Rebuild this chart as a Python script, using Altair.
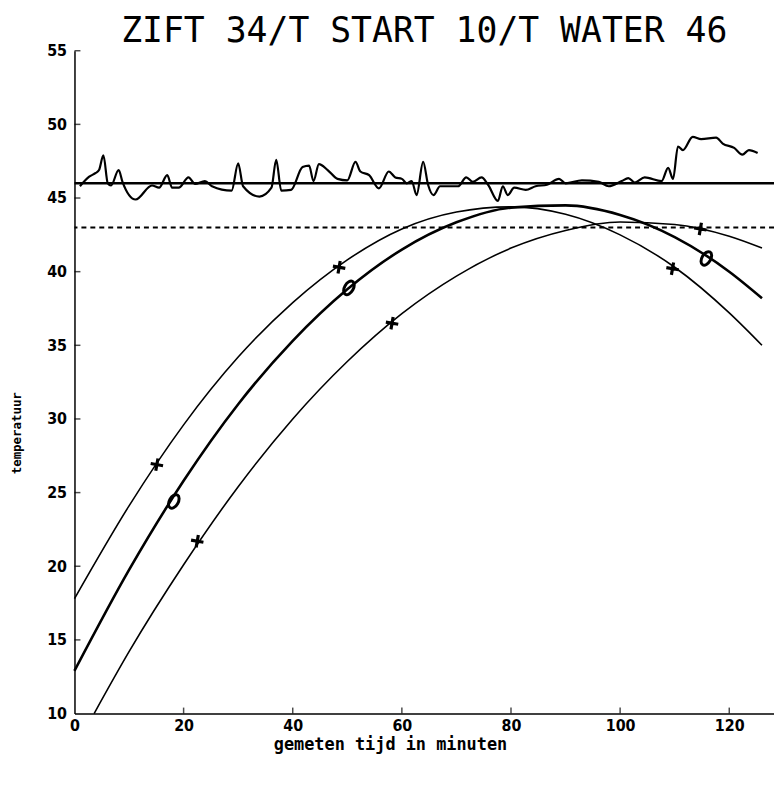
import altair as alt
import pandas as pd

title_text = "ZIFT 34/T START 10/T WATER 46"
x_label = "gemeten tijd in minuten"
y_label = "temperatuur"

x_ticks = [0, 20, 40, 60, 80, 100, 120]
y_ticks = [10, 15, 20, 25, 30, 35, 40, 45, 50, 55]

water_level = [46]
target_level = [43]

noise_x = [1.0, 2.7, 3.9, 4.5, 5.3, 6.1, 6.7, 8.1, 8.8, 11.2, 14.2, 15.5, 17.0, 17.9,
           19.1, 20.9, 22.1, 23.9, 25.2, 28.8, 30.0, 30.9, 33.9, 36.1, 36.97, 37.9,
           39.7, 41.8, 43.0, 43.8, 44.8, 46.4, 48.2, 50.0, 51.5, 52.4, 54.0, 55.8,
           57.6, 58.8, 60.0, 60.9, 61.8, 62.7, 63.9, 64.8, 65.8, 67.0, 70.3, 71.8,
           73.0, 74.6, 75.8, 77.6, 78.5, 79.4, 80.6, 82.7, 84.5, 86.6, 88.8, 90.0,
           93.0, 96.1, 97.9, 100.3, 101.5, 102.7, 104.5, 107.6, 108.8, 109.7, 110.6,
           111.5, 113.3, 114.85, 117.6, 118.8, 120.9, 122.4, 123.6, 125.2]
noise_y = [45.8, 46.45, 46.7, 46.9, 47.9, 46.0, 45.85, 46.9, 46.1, 44.9, 45.85, 45.7,
           46.55, 45.7, 45.7, 46.4, 45.95, 46.15, 45.8, 45.5, 47.35, 45.8, 45.1, 45.7,
           47.6, 45.5, 45.55, 47.1, 47.2, 46.15, 47.3, 46.9, 46.3, 46.2, 47.45, 46.8,
           46.55, 45.65, 46.8, 46.4, 46.3, 46.0, 46.15, 45.2, 47.45, 45.9, 45.2, 45.8,
           45.8, 46.4, 46.1, 46.4, 45.9, 44.8, 45.8, 45.2, 45.7, 45.55, 45.8, 45.9,
           46.3, 46.0, 46.2, 46.1, 45.8, 46.15, 46.35, 46.05, 46.4, 46.15, 47.05,
           46.3, 48.5, 48.25, 49.15, 49.0, 49.1, 48.7, 48.4, 47.95, 48.25, 48.05]

curve_x = [0, 10, 20, 30, 40, 50, 60, 70, 80, 90, 100, 110, 120, 126]
curve1_y = [17.8, 24.1, 29.6, 34.2, 37.9, 40.8, 42.9, 44.05, 44.4, 43.9, 42.5, 40.3, 37.2, 35.0]
curve2_y = [12.9, 19.75, 25.8, 31.0, 35.3, 38.8, 41.5, 43.35, 44.35, 44.5, 43.85, 42.35, 40.0, 38.2]
curve3_x = [3.6, 10, 20, 30, 40, 50, 60, 70, 80, 90, 100, 110, 120, 126]
curve3_y = [10.0, 14.2, 20.1, 25.4, 30.0, 33.9, 37.15, 39.7, 41.6, 42.8, 43.37, 43.2, 42.4, 41.6]

plus1_x = [15.1, 48.5, 109.6]
plus1_y = [26.9, 40.3, 40.2]
ring_x = [18.2, 50.3, 115.8]
ring_y = [24.4, 38.9, 40.9]
plus3_x = [22.5, 58.2, 114.7]
plus3_y = [21.7, 36.5, 42.9]

W, H = 705, 668
xs = alt.Scale(domain=[0, 128.2], nice=False, zero=False)
ys = alt.Scale(domain=[10, 55], nice=False, zero=False)

FONT = "DejaVu Sans Condensed, DejaVu Sans"
MONO = "DejaVu Sans Mono"

x_axis = alt.Axis(values=x_ticks, ticks=False, grid=False, domainColor="black", domainWidth=1.5,
                  labelFont=FONT, labelFontSize=16, labelFontWeight="bold", labelColor="black",
                  labelPadding=4, labelFlush=False, labelOverlap=False, labelBound=False,
                  title=x_label, titleFont=MONO, titleFontSize=17, titleFontWeight="bold",
                  titleColor="black", titleX=318, titleY=31, titleAlign="center",
                  titleBaseline="middle")
y_axis = alt.Axis(values=y_ticks, ticks=False, grid=False, domainColor="black", domainWidth=1.5,
                  labelFont=FONT, labelFontSize=16, labelFontWeight="bold", labelColor="black",
                  labelPadding=8, labelFlush=False, labelOverlap=False, labelBound=False,
                  title=y_label, titleFont=MONO, titleFontSize=12.5, titleFontWeight="bold",
                  titleColor="black", titleX=-58, titleY=385, titleAngle=270, titleAlign="center",
                  titleBaseline="middle")

def df(x, y):
    return pd.DataFrame({"x": x, "y": y})

base_noise = alt.Chart(df(noise_x, noise_y)).mark_line(color="black", strokeWidth=2.2, interpolate="monotone").encode(
    x=alt.X("x:Q", scale=xs, axis=x_axis),
    y=alt.Y("y:Q", scale=ys, axis=y_axis),
)

water = alt.Chart(pd.DataFrame({"y": water_level})).mark_rule(color="black", strokeWidth=2.5).encode(
    y=alt.Y("y:Q", scale=ys))
target = alt.Chart(pd.DataFrame({"y": target_level})).mark_rule(color="black", strokeWidth=2, strokeDash=[5, 4]).encode(
    y=alt.Y("y:Q", scale=ys))

def curve(x, y, w):
    return alt.Chart(df(x, y)).mark_line(color="black", strokeWidth=w, interpolate="monotone").encode(
        x=alt.X("x:Q", scale=xs), y=alt.Y("y:Q", scale=ys))

c1 = curve(curve_x, curve1_y, 1.6)
c2 = curve(curve_x, curve2_y, 2.6)
c3 = curve(curve3_x, curve3_y, 1.6)

plus_path = "M-1,0L1,0M0,-1L0,1"
ring_path = "M0,-1A0.6,1 0 1,1 0,1A0.6,1 0 1,1 0,-1Z"

def markers(x, y, shape, size, angle=0, sw=3):
    return alt.Chart(df(x, y)).mark_point(shape=shape, size=size, filled=False, color="black",
                                          strokeWidth=sw, opacity=1, angle=angle).encode(
        x=alt.X("x:Q", scale=xs), y=alt.Y("y:Q", scale=ys))

m1 = markers(plus1_x, plus1_y, plus_path, 160, angle=10, sw=3.2)
m2 = markers(ring_x, ring_y, ring_path, 220, angle=30, sw=3)
m3 = markers(plus3_x, plus3_y, plus_path, 160, angle=10, sw=3.2)

ytick = alt.Chart(pd.DataFrame({"y": y_ticks[1:]})).mark_tick(orient="horizontal", size=6, thickness=1.5, color="black").encode(
    y=alt.Y("y:Q", scale=ys), x=alt.value(3))
xtick = alt.Chart(pd.DataFrame({"x": x_ticks[1:]})).mark_tick(orient="vertical", size=6, thickness=1.5, color="black").encode(
    x=alt.X("x:Q", scale=xs), y=alt.value(H - 3))

chart = alt.layer(base_noise, water, target, c1, c2, c3, m1, m2, m3, ytick, xtick).properties(
    width=W, height=H,
    autosize=alt.AutoSizeParams(type="none"),
    padding={"left": 67, "top": 40, "right": 0, "bottom": 74},
    title=alt.TitleParams(text=title_text, font=MONO, fontSize=35, fontWeight=300,
                          color="black", anchor="middle", offset=-6),
).configure(background="white", view=alt.ViewConfig(stroke=None))

chart.save("out.html", embed_options={"renderer": "svg", "actions": False})
